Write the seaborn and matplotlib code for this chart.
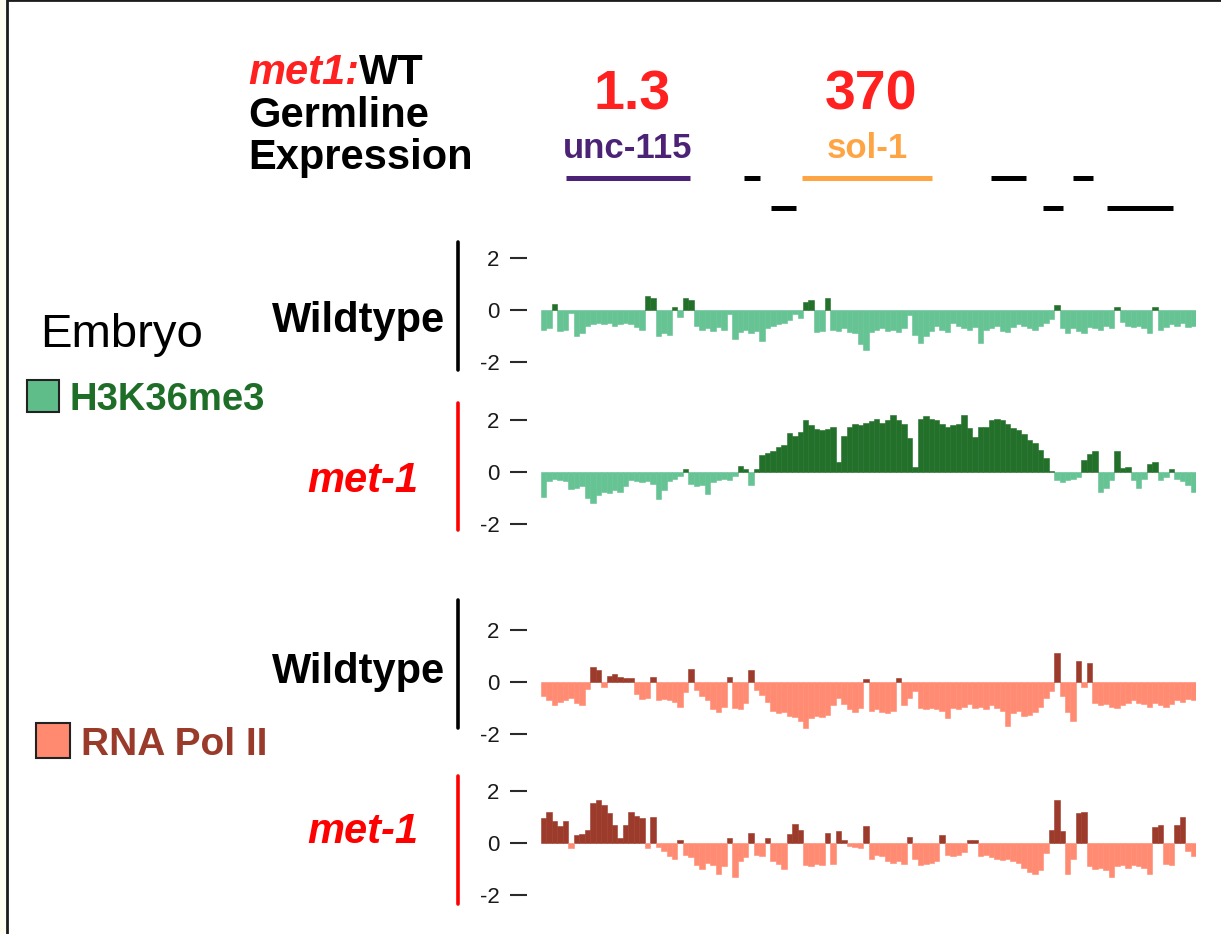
import numpy as np
import pandas as pd
import matplotlib
matplotlib.use("Agg")
import matplotlib.pyplot as plt
from matplotlib.lines import Line2D
from matplotlib.patches import Rectangle
from matplotlib import transforms
import seaborn as sns

sns.set_theme(style="white")
plt.rcParams["font.family"] = ["Liberation Sans", "DejaVu Sans"]
plt.rcParams["text.color"] = "black"

# log2 enrichment per bin (120 bins across the locus)
wt_k36 = [-0.75, -0.7, 0.25, -0.8, -0.75, -0.1, -1.0, -0.9, -0.6, -0.55,
          -0.5, -0.55, -0.5, -0.6, -0.55, -0.5, -0.55, -0.65, -0.75, 0.55,
          0.47, -1.0, -0.9, -0.95, 0.1, -0.25, 0.47, 0.37, -0.6, -0.75,
          -0.7, -0.8, -0.65, -0.75, -0.15, -1.1, -0.85, -0.75, -0.9, -0.8,
          -1.2, -0.7, -0.6, -0.55, -0.5, -0.4, -0.15, -0.3, 0.3, 0.37,
          -0.85, -0.8, 0.45, -0.75, -0.8, -0.7, -0.85, -0.9, -1.3, -1.55,
          -0.85, -0.75, -0.7, -0.8, -0.75, -0.85, -0.7, -0.2, -0.95, -1.25,
          -1.0, -0.8, -0.6, -0.75, -0.85, -0.5, -0.6, -0.7, -0.75, -0.65,
          -1.25, -0.75, -0.7, -0.6, -0.8, -0.85, -0.65, -0.55, -0.6, -0.7,
          -0.75, -0.6, -0.5, -0.35, 0.2, -0.7, -0.9, -0.7, -0.8, -0.9,
          -0.65, -0.7, -0.75, -0.6, -0.7, 0.1, -0.45, -0.6, -0.65, -0.6,
          -0.7, -0.9, 0.1, -0.75, -0.65, -0.55, -0.6, -0.5, -0.65, -0.6]

met1_k36 = [-0.95, -0.35, -0.25, -0.3, -0.35, -0.65, -0.6, -0.55, -1.0, -1.2,
            -0.9, -0.75, -0.8, -0.7, -0.75, -0.55, -0.3, -0.35, -0.4, -0.35,
            -0.45, -1.05, -0.7, -0.35, -0.25, -0.15, 0.1, -0.45, -0.55, -0.5,
            -0.85, -0.4, -0.3, -0.25, -0.3, -0.15, 0.25, 0.1, -0.5, 0.1,
            0.65, 0.75, 0.8, 0.95, 1.05, 1.5, 1.4, 1.55, 2.0, 1.8,
            1.65, 1.6, 1.65, 1.75, 0.4, 1.4, 1.75, 1.85, 1.8, 1.9,
            1.95, 2.05, 1.9, 2.0, 2.2, 2.0, 1.85, 1.3, 0.2, 2.05,
            2.15, 2.05, 2.0, 1.85, 1.75, 1.8, 1.85, 2.2, 1.7, 1.35,
            1.75, 1.75, 2.0, 2.05, 2.0, 1.85, 1.7, 1.6, 1.45, 1.25,
            1.1, 0.85, 0.55, 0.05, -0.3, -0.4, -0.3, -0.25, -0.2, 0.45,
            0.7, 0.8, -0.75, -0.6, -0.3, 0.8, 0.15, 0.2, -0.3, -0.6,
            -0.25, 0.3, 0.4, -0.3, -0.2, 0.1, -0.25, -0.35, -0.5, -0.75]

wt_pol2 = [-0.55, -0.7, -0.9, -0.75, -0.7, -0.6, -0.8, -0.9, -0.25, 0.58,
           0.45, -0.2, 0.25, 0.3, 0.2, 0.15, 0.15, -0.45, -0.65, -0.6,
           0.2, -0.7, -0.65, -0.7, -0.75, -0.95, -0.4, 0.5, -0.3, -0.55,
           -0.7, -1.05, -1.15, -0.95, 0.2, -1.0, -1.05, -0.8, 0.45, -0.3,
           -0.5, -0.75, -1.1, -1.2, -1.15, -1.3, -1.35, -1.5, -1.75, -1.4,
           -1.3, -1.35, -1.25, -0.9, -0.6, -0.85, -1.05, -1.15, -1.0, 0.1,
           -1.1, -1.05, -1.15, -1.2, -1.1, 0.15, -0.9, -0.6, -0.35, -1.0,
           -1.05, -1.0, -1.05, -1.1, -1.4, -1.0, -1.05, -0.95, -0.85, -1.0,
           -0.95, -1.05, -0.9, -1.0, -1.1, -1.7, -1.2, -1.1, -1.3, -1.25,
           -1.15, -0.95, -0.6, -0.35, 1.1, -0.55, -1.15, -1.5, 0.8, -0.2,
           0.75, -0.8, -0.9, -0.85, -0.95, -1.0, -0.9, -0.8, -0.7, -0.8,
           -0.85, -0.95, -0.8, -0.9, -0.95, -0.85, -0.7, -0.75, -0.65, -0.7]

met1_pol2 = [0.95, 1.2, 0.85, 0.65, 0.85, -0.2, 0.3, 0.35, 0.5, 1.55,
             1.65, 1.45, 1.15, 0.7, 0.2, 0.7, 1.2, 1.05, 0.95, -0.2,
             1.0, -0.15, -0.3, -0.5, -0.6, 0.1, -0.45, -0.55, -0.85, -1.0,
             -0.75, -0.85, -1.2, -0.9, 0.2, -1.3, -0.7, -0.55, 0.4, -0.45,
             -0.5, 0.2, -0.7, -0.8, -1.0, 0.35, 0.75, 0.5, -0.85, -0.9,
             -0.8, -0.85, 0.4, -0.8, 0.45, 0.1, -0.1, -0.15, -0.2, 0.65,
             -0.6, -0.45, -0.5, -0.7, -0.75, -0.7, -0.8, 0.25, -0.6, -0.85,
             -0.8, -0.75, -0.7, 0.3, -0.45, -0.5, -0.45, -0.35, 0.1, 0.1,
             -0.5, -0.45, -0.55, -0.6, -0.65, -0.6, -0.7, -0.75, -0.95, -1.1,
             -1.2, -1.05, -0.4, 0.5, 1.65, 0.45, -1.2, -0.6, 1.15, 1.2,
             -0.9, -1.0, -0.95, -1.05, -1.3, -0.9, -0.85, -0.95, -0.85, -0.9,
             -0.95, -1.2, 0.6, 0.7, -0.8, -0.85, 0.7, 1.0, -0.3, -0.5]

# gene models (in bin units along the same locus)
gene_start = [4.1, 36.7, 47.3, 81.9, 97.0, 41.6, 91.5, 103.2]
gene_end = [26.8, 39.6, 71.1, 88.4, 100.6, 46.2, 95.1, 115.3]
gene_row = [0, 0, 0, 0, 0, 1, 1, 1]
gene_label = ["unc-115", "", "sol-1", "", "", "", "", ""]
gene_expr = ["1.3", "", "370", "", "", "", "", ""]
gene_color = ["#4b2276", "black", "#ffa443", "black", "black", "black", "black", "black"]

W, H = 1221, 934
fx = lambda x: x / W
fy = lambda y: 1 - y / H

fig = plt.figure(figsize=(12.21, 9.34), dpi=100, facecolor="#fffdf0")
fig.add_artist(Rectangle((fx(7), fy(950)), 1.2, 950 / H, transform=fig.transFigure,
                         facecolor="white", edgecolor="#1c1c1c", lw=2, zorder=-5))

tracks = [
    (wt_k36, 310, "Wildtype", "black", "normal", 332, (242, 370), "#23702a", "#66c394"),
    (met1_k36, 472, "met-1", "#ff0000", "italic", 492, (403, 530), "#23702a", "#66c394"),
    (wt_pol2, 682, "Wildtype", "black", "normal", 683, (600, 728), "#9c3b2b", "#ff8b73"),
    (met1_pol2, 843, "met-1", "#ff0000", "italic", 843, (776, 904), "#9c3b2b", "#ff8b73"),
]

half = 2.6
px_unit = 26
for vals, zero_px, name, ncol, nstyle, base_px, bar_px, dark, light in tracks:
    ax = fig.add_axes([fx(541), fy(zero_px + half * px_unit), 655 / W, 2 * half * px_unit / H])
    df = pd.DataFrame({"pos": np.arange(len(vals)), "val": vals})
    df["sign"] = np.where(df["val"] >= 0, "up", "down")
    sns.barplot(data=df, x="pos", y="val", hue="sign", palette={"up": dark, "down": light},
                dodge=False, width=1.0, saturation=1, legend=False, ax=ax)
    for p in ax.patches:
        p.set_edgecolor(p.get_facecolor())
        p.set_linewidth(0.4)
    ax.set_xlim(-0.5, len(vals) - 0.5)
    ax.set_ylim(-half, half)
    ax.set_facecolor("none")
    ax.set_xlabel("")
    ax.set_ylabel("")
    ax.set_xticks([])
    ax.set_yticks([-2, 0, 2])
    ax.set_yticklabels(["-2", "0", "2"])
    ax.tick_params(axis="y", left=True, length=12, width=1.5, color="#2a2a2a",
                   pad=8, labelsize=16, labelcolor="#1a1a1a")
    for s in ["top", "right", "bottom"]:
        ax.spines[s].set_visible(False)
    ax.spines["left"].set_position(("outward", 10))
    ax.spines["left"].set_visible(False)

    fig.add_artist(Line2D([fx(458), fx(458)], [fy(bar_px[0]), fy(bar_px[1])],
                          transform=fig.transFigure, color=ncol, lw=2.6))
    fig.text(fx(445) if name == "Wildtype" else fx(418), fy(base_px), name, ha="right",
             va="baseline", fontsize=30, fontweight="bold", fontstyle=nstyle, color=ncol)

# gene model track
gax = fig.add_axes([fx(541), fy(223), 655 / W, 60 / H])
gax.set_xlim(-0.5, 119.5)
gax.set_ylim(1.5, -0.5)
gax.axis("off")
gax.hlines(gene_row, gene_start, gene_end, colors=gene_color, lw=3.6)
tr = transforms.blended_transform_factory(gax.transData, fig.transFigure)
for s, e, lab, ex, c in zip(gene_start, gene_end, gene_label, gene_expr, gene_color):
    if lab:
        gax.text((s + e) / 2, fy(158), lab, transform=tr, ha="center", va="baseline",
                 fontsize=25, fontweight="bold", color=c)
        gax.text((s + e) / 2 + 0.8, fy(110), ex, transform=tr, ha="center", va="baseline",
                 fontsize=40, fontweight="bold", color="#ff2020")

# header text
t1 = fig.text(fx(248), fy(84), "met1:", ha="left", va="baseline", fontsize=30,
              fontweight="bold", fontstyle="italic", color="#ff2020")
gax.annotate("WT", xy=(1, 0), xycoords=t1, ha="left", va="bottom", fontsize=30,
             fontweight="bold", color="black", annotation_clip=False)
fig.text(fx(248), fy(127), "Germline", ha="left", va="baseline", fontsize=30,
         fontweight="bold", color="black")
fig.text(fx(248), fy(169), "Expression", ha="left", va="baseline", fontsize=30,
         fontweight="bold", color="black")

# legend-like labels on the left
fig.text(fx(40), fy(347), "Embryo", ha="left", va="baseline", fontsize=34, color="black")
fig.add_artist(Rectangle((fx(27), fy(412)), 32 / W, 32 / H, transform=fig.transFigure,
                         facecolor="#5fbd8a", edgecolor="#222222", lw=1.5))
fig.text(fx(70), fy(410), "H3K36me3", ha="left", va="baseline", fontsize=27.5,
         fontweight="bold", color="#1f6e28")
fig.add_artist(Rectangle((fx(36), fy(758)), 34 / W, 35 / H, transform=fig.transFigure,
                         facecolor="#ff8a70", edgecolor="#222222", lw=1.5))
fig.text(fx(81), fy(755), "RNA Pol II", ha="left", va="baseline", fontsize=28,
         fontweight="bold", color="#993a2a")

fig.savefig("out.png", dpi=100, facecolor=fig.get_facecolor())
